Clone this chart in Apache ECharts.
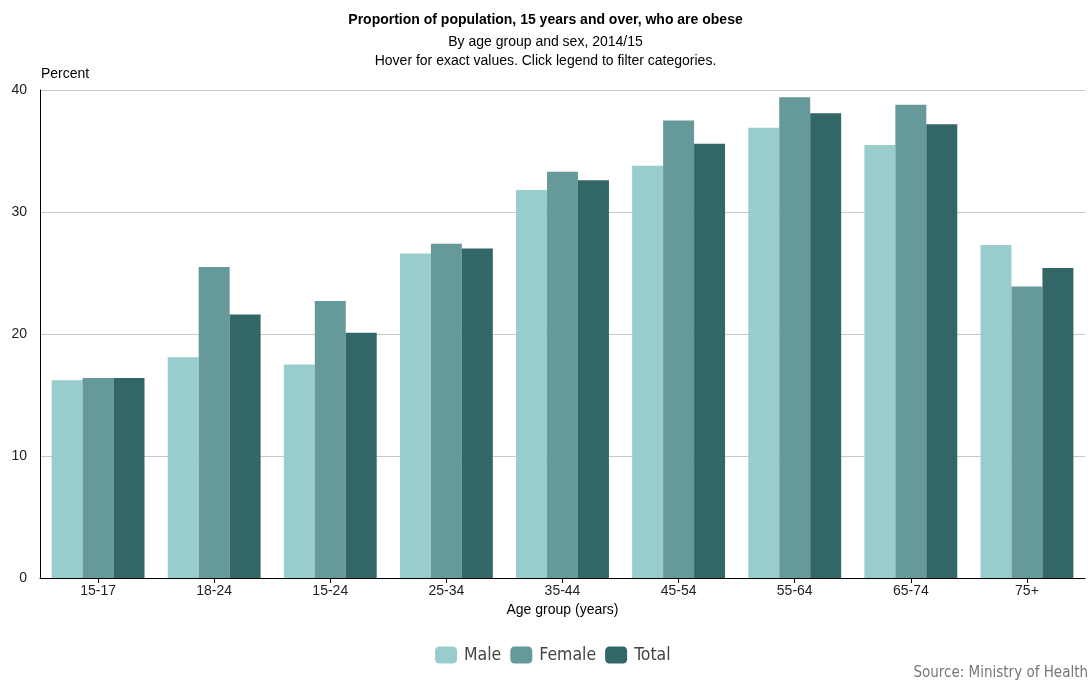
<!DOCTYPE html>
<html>
<head>
<meta charset="utf-8">
<script src="https://cdn.jsdelivr.net/npm/echarts@6/dist/echarts.min.js"></script>
<style>
  html, body { margin: 0; padding: 0; background: #fff; }
  #chart { width: 1091px; height: 687px; }
</style>
</head>
<body>
<div id="chart"></div>
<script>
// Obesity rates, population aged 15+, 2014/15, by age group and sex
const categories = ['15-17', '18-24', '15-24', '25-34', '35-44', '45-54', '55-64', '65-74', '75+'];
const male   = [16.2, 18.1, 17.5, 26.6, 31.8, 33.8, 36.9, 35.5, 27.3];
const female = [16.4, 25.5, 22.7, 27.4, 33.3, 37.5, 39.4, 38.8, 23.9];
const total  = [16.4, 21.6, 20.1, 27.0, 32.6, 35.6, 38.1, 37.2, 25.4];
const yTicks = { min: 0, max: 40, interval: 10 };

const FONT = '"Liberation Sans", Arial, sans-serif';
const COND = '"DejaVu Sans Condensed", "DejaVu Sans", sans-serif';

const chart = echarts.init(document.getElementById('chart'));

const barSeries = (name, data, color) => ({
  name: name,
  type: 'bar',
  data: data,
  barGap: '0%',
  barCategoryGap: '20%',
  itemStyle: { color: color },
  emphasis: { disabled: true }
});

const titleLine = (text, top, bold) => ({
  text: text,
  left: 'center',
  top: top,
  textStyle: { fontFamily: FONT, fontSize: 14, fontWeight: bold ? 'bold' : 'normal', color: '#000' }
});

chart.setOption({
  animation: false,
  textStyle: { fontFamily: FONT },
  title: [
    titleLine('Proportion of population, 15 years and over, who are obese', 8, true),
    titleLine('By age group and sex, 2014/15', 30, false),
    titleLine('Hover for exact values. Click legend to filter categories.', 49, false)
  ],
  tooltip: { trigger: 'item' },
  legend: {
    data: ['Male', 'Female', 'Total'],
    left: 430,
    top: 641,
    icon: 'roundRect',
    itemWidth: 22,
    itemHeight: 17,
    itemGap: 9,
    textStyle: { fontFamily: COND, fontSize: 17.5, color: '#444', padding: [0, 0, 0, 2] }
  },
  grid: { left: 40, right: 6, top: 90, bottom: 109, containLabel: false },
  xAxis: {
    type: 'category',
    data: categories,
    name: 'Age group (years)',
    nameLocation: 'middle',
    nameGap: 25,
    nameTextStyle: { fontFamily: FONT, fontSize: 14, color: '#000' },
    axisLine: { lineStyle: { color: '#000', width: 1 } },
    axisTick: { show: true, alignWithLabel: true, length: 5, lineStyle: { color: '#000' } },
    axisLabel: { fontFamily: FONT, fontSize: 14, color: '#222', margin: 6 },
    splitLine: { show: false }
  },
  yAxis: {
    type: 'value',
    min: yTicks.min,
    max: yTicks.max,
    interval: yTicks.interval,
    axisLine: { show: true, lineStyle: { color: '#000', width: 1 } },
    axisTick: { show: false },
    axisLabel: { fontFamily: FONT, fontSize: 14, color: '#222', margin: 13 },
    splitLine: { show: true, lineStyle: { color: '#c8c8c8', width: 1 } }
  },
  graphic: [
    {
      type: 'text',
      left: 41,
      top: 67,
      style: { text: 'Percent', font: '14px "Liberation Sans", Arial, sans-serif', fill: '#000' }
    },
    {
      type: 'text',
      right: 3,
      top: 666,
      style: { text: 'Source: Ministry of Health', font: '15px "DejaVu Sans Condensed", "DejaVu Sans", sans-serif', fill: '#777' }
    }
  ],
  series: [
    barSeries('Male', male, '#99cccc'),
    barSeries('Female', female, '#669999'),
    barSeries('Total', total, '#336666')
  ]
});
</script>
</body>
</html>
